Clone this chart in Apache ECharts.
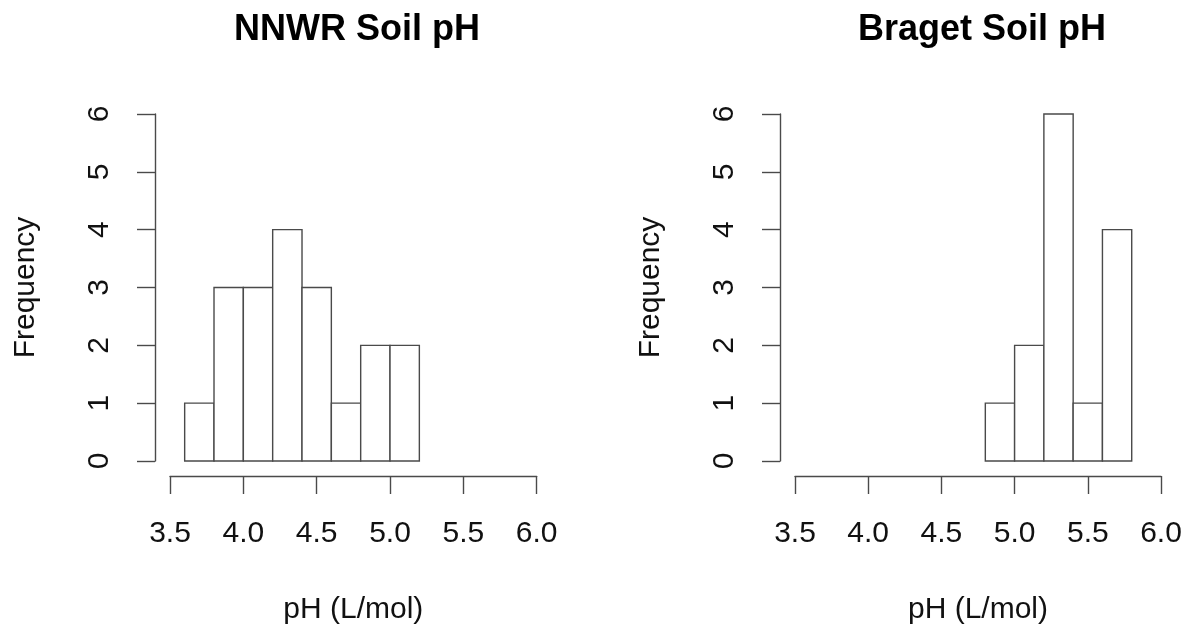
<!DOCTYPE html>
<html>
<head>
<meta charset="utf-8">
<script src="https://cdn.jsdelivr.net/npm/echarts@6/dist/echarts.min.js"></script>
<style>
  html, body { margin: 0; padding: 0; background: #fff; }
  #chart { width: 1186px; height: 628px; }
</style>
</head>
<body>
<div id="chart"></div>
<script>
// ---- data ----
var titles = ['NNWR Soil pH', 'Braget Soil pH'];
var xAxisTitle = 'pH (L/mol)';
var yAxisTitle = 'Frequency';
var nnwrBreaks = [3.6, 3.8, 4.0, 4.2, 4.4, 4.6, 4.8, 5.0, 5.2];
var nnwrCounts = [1, 3, 3, 4, 3, 1, 2, 2];
var bragetBreaks = [4.8, 5.0, 5.2, 5.4, 5.6, 5.8];
var bragetCounts = [1, 2, 6, 1, 4];
var xMin = 3.5, xMax = 6.0, xStep = 0.5;
var yMin = 0, yMax = 6, yStep = 1;

// ---- build ----
function toBins(breaks, counts) {
  var out = [];
  for (var i = 0; i < counts.length; i++) out.push([breaks[i], breaks[i + 1], counts[i]]);
  return out;
}
var FONT = "'Liberation Sans', Arial, Helvetica, sans-serif";
var LINE = '#4a4a4a';

var grids = [
  { left: 170, top: 114, width: 366.7, height: 347 },
  { left: 795, top: 114, width: 366, height: 347 }
];
var titleCenters = [352, 977];

function xAxisFor(i) {
  return {
    type: 'value', gridIndex: i, min: xMin, max: xMax, interval: xStep,
    offset: 15,
    name: xAxisTitle, nameLocation: 'middle', nameGap: 119,
    nameTextStyle: { fontFamily: FONT, fontSize: 30, color: '#111' },
    axisLine: { show: true, onZero: false, lineStyle: { color: LINE, width: 1.4 } },
    axisTick: { show: true, length: 18, lineStyle: { color: LINE, width: 1.4 } },
    axisLabel: { margin: 43, fontFamily: FONT, fontSize: 30, color: '#111',
      formatter: function (v) { return v.toFixed(1); } },
    splitLine: { show: false }
  };
}
function yAxisFor(i) {
  return {
    type: 'value', gridIndex: i, min: yMin, max: yMax, interval: yStep,
    offset: 15,
    name: yAxisTitle, nameLocation: 'middle', nameGap: 114, nameRotate: 90,
    nameTextStyle: { fontFamily: FONT, fontSize: 30, color: '#111' },
    axisLine: { show: true, onZero: false, lineStyle: { color: LINE, width: 1.4 } },
    axisTick: { show: true, length: 18, lineStyle: { color: LINE, width: 1.4 } },
    axisLabel: { margin: 40, rotate: 90, fontFamily: FONT, fontSize: 30, color: '#111' },
    splitLine: { show: false }
  };
}
function histSeries(i, bins) {
  return {
    type: 'custom', xAxisIndex: i, yAxisIndex: i,
    data: bins,
    encode: { x: [0, 1], y: 2 },
    renderItem: function (params, api) {
      var p0 = api.coord([api.value(0), api.value(2)]);
      var p1 = api.coord([api.value(1), 0]);
      return {
        type: 'rect',
        shape: { x: p0[0], y: p0[1], width: p1[0] - p0[0], height: p1[1] - p0[1] },
        style: { fill: '#fff', stroke: LINE, lineWidth: 1.4 }
      };
    }
  };
}

var option = {
  backgroundColor: '#fff',
  animation: false,
  title: titles.map(function (t, i) {
    return { text: t, left: titleCenters[i], top: 7, textAlign: 'center',
      textStyle: { fontFamily: FONT, fontSize: 36, fontWeight: 'bold', color: '#000' } };
  }),
  grid: grids.map(function (g) { return Object.assign({ containLabel: false, outerBoundsMode: 'none' }, g); }),
  xAxis: [xAxisFor(0), xAxisFor(1)],
  yAxis: [yAxisFor(0), yAxisFor(1)],
  series: [histSeries(0, toBins(nnwrBreaks, nnwrCounts)), histSeries(1, toBins(bragetBreaks, bragetCounts))]
};

var chart = echarts.init(document.getElementById('chart'), null, { renderer: 'canvas' });
chart.setOption(option);
</script>
</body>
</html>
